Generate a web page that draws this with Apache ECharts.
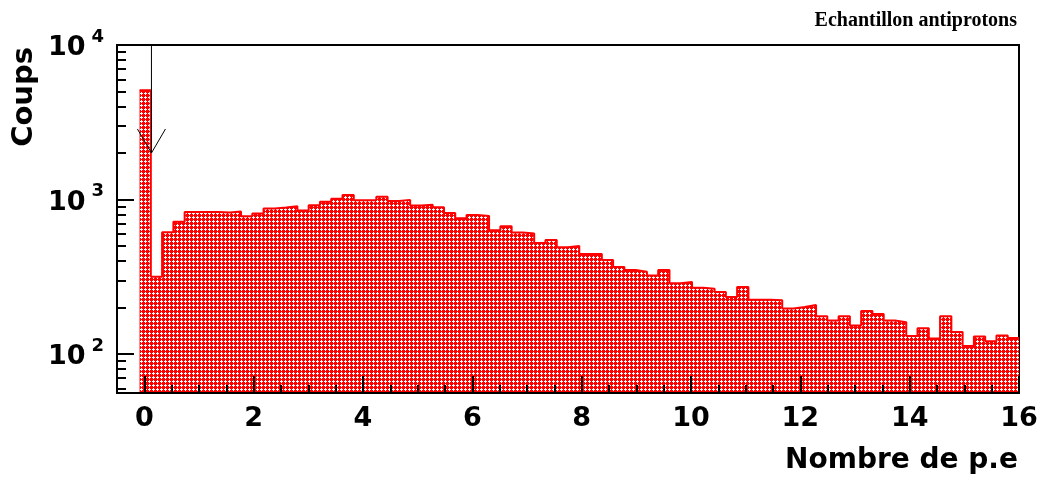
<!DOCTYPE html>
<html>
<head>
<meta charset="utf-8">
<script src="https://cdn.jsdelivr.net/npm/echarts@6/dist/echarts.min.js"></script>
<style>
  html, body { margin: 0; padding: 0; background: #fff; }
  #chart { width: 1039px; height: 479px; }
</style>
</head>
<body>
<div id="chart"></div>
<script>
// Histogram binning: 80 equal bins over [-0.5, 16]
const xLow = -0.5;
const xHigh = 16;
const nBins = 80;
// Bins 0 and 1 are empty; counts start at bin 2
const firstFilledBin = 2;
const counts = [
  5100, 316, 614, 717, 832, 832, 832, 824, 836, 780, 811, 875, 887, 906, 849, 919,
  966, 1010, 1072, 990, 990, 1041, 980, 995, 914, 924, 892, 819, 757, 795, 784, 633, 672, 611, 602, 524, 548,
  491, 501, 444, 444, 406, 366, 350, 341, 322, 350, 287, 293, 269, 265, 252, 234, 272, 225, 225, 223, 197,
  202, 208, 176, 165, 176, 153, 190, 182, 165, 161, 131, 147, 126, 176, 139, 113, 130, 121, 132, 127
];

// Y range (log scale)
const yMin = 56;
const yMax = 10000;

// Tick values
const xMajorTicks = [0, 2, 4, 6, 8, 10, 12, 14, 16];
const xMinorStep = 0.5;
const yMajorTicks = [100, 1000, 10000];
const yMinorMantissas = [2, 3, 4, 5, 6, 7, 8, 9];

// Arrow marker: x position, start (top) and tip counts
const arrow = [[0.13, 10000, 2000]];

// Text
const titleText = 'Echantillon antiprotons';
const xTitle = 'Nombre de p.e';
const yTitle = 'Coups';

// ---- derived helpers ----
const binWidth = (xHigh - xLow) / nBins;
const stepPoints = counts.map((c, i) => [xLow + (firstFilledBin + i) * binWidth, c]);
stepPoints.push([xHigh, counts[counts.length - 1]]);

const xMinorTicks = [];
for (let v = 0; v <= xHigh + 1e-9; v += xMinorStep) xMinorTicks.push(+v.toFixed(3));

const yMinorTicks = [];
[10, 100, 1000].forEach(d => yMinorMantissas.forEach(m => {
  const v = m * d;
  if (v >= yMin && v <= yMax) yMinorTicks.push(v);
}));

// Red crosshatch fill pattern
function makeHatch() {
  const c = document.createElement('canvas');
  c.width = 4; c.height = 4;
  const g = c.getContext('2d');
  g.fillStyle = '#ff0000';
  g.fillRect(0, 0, 4, 4);
  g.fillStyle = '#ffffff';
  [[1, 0], [0, 1], [1, 1], [2, 1], [1, 2]].forEach(p => g.fillRect(p[0], p[1], 1, 1));
  return c;
}

const FONT = 'DejaVu Sans';
const chart = echarts.init(document.getElementById('chart'), null, { renderer: 'canvas' });

chart.setOption({
  animation: false,
  backgroundColor: '#ffffff',
  grid: {
    left: 117, right: 20, top: 45, bottom: 86,
    show: true, borderColor: '#000', borderWidth: 2,
    containLabel: false, outerBoundsMode: 'none'
  },
  xAxis: [
    {
      type: 'value', min: xLow, max: xHigh, position: 'bottom', z: 5,
      axisLine: { show: true, onZero: false, lineStyle: { color: '#000', width: 2 } },
      axisTick: { show: true, inside: true, length: 17, customValues: xMajorTicks,
                  lineStyle: { color: '#000', width: 2 } },
      axisLabel: { customValues: xMajorTicks, color: '#000', fontFamily: FONT, fontWeight: 'bold',
                   fontSize: 27, margin: 12, formatter: v => String(v) },
      splitLine: { show: false }
    },
    {
      type: 'value', min: xLow, max: xHigh, position: 'bottom', z: 5,
      axisLine: { show: false, onZero: false },
      axisTick: { show: true, inside: true, length: 8, customValues: xMinorTicks,
                  lineStyle: { color: '#000', width: 2 } },
      axisLabel: { show: false },
      splitLine: { show: false }
    }
  ],
  yAxis: [
    {
      type: 'log', logBase: 10, min: yMin, max: yMax, position: 'left', z: 5,
      axisLine: { show: true, onZero: false, lineStyle: { color: '#000', width: 2 } },
      axisTick: { show: true, inside: true, length: 17, customValues: yMajorTicks,
                  lineStyle: { color: '#000', width: 2 } },
      axisLabel: {
        customValues: yMajorTicks, margin: 13, padding: [6, 0, 0, 0],
        formatter: v => '{b|10}{s|' + Math.round(Math.log10(v)) + '}',
        rich: {
          b: { fontFamily: FONT, fontWeight: 'bold', fontSize: 27, color: '#000', lineHeight: 40 },
          s: { fontFamily: FONT, fontWeight: 'bold', fontSize: 18, color: '#000', lineHeight: 14,
               verticalAlign: 'top', padding: [0, 0, 0, 6] }
        }
      },
      splitLine: { show: false }
    },
    {
      type: 'log', logBase: 10, min: yMin, max: yMax, position: 'left', z: 5,
      axisLine: { show: false, onZero: false },
      axisTick: { show: true, inside: true, length: 9, customValues: yMinorTicks,
                  lineStyle: { color: '#000', width: 2 } },
      axisLabel: { show: false },
      splitLine: { show: false }
    }
  ],
  series: [
    {
      type: 'line', xAxisIndex: 0, yAxisIndex: 0,
      data: stepPoints, step: 'end', symbol: 'none', clip: true, z: 2,
      lineStyle: { color: '#ff0000', width: 2 },
      areaStyle: { color: { image: makeHatch(), repeat: 'repeat' }, opacity: 1, origin: 'start' }
    },
    {
      type: 'custom', xAxisIndex: 0, yAxisIndex: 0, z: 6,
      data: arrow,
      renderItem: (params, api) => {
        const top = api.coord([api.value(0), api.value(1)]);
        const tip = api.coord([api.value(0), api.value(2)]);
        return {
          type: 'group',
          children: [
            { type: 'line', shape: { x1: top[0], y1: top[1], x2: tip[0], y2: tip[1] },
              style: { stroke: '#000', lineWidth: 1 } },
            { type: 'polyline',
              shape: { points: [[tip[0] - 14, tip[1] - 24], [tip[0], tip[1]], [tip[0] + 14, tip[1] - 24]] },
              style: { stroke: '#000', fill: null, lineWidth: 1 } }
          ]
        };
      }
    }
  ],
  graphic: [
    { type: 'text', x: 1017, y: 21,
      style: { text: titleText, fill: '#000', font: 'bold 20px "Liberation Serif"',
               textAlign: 'right', textVerticalAlign: 'middle' } },
    { type: 'text', x: 1018, y: 461,
      style: { text: xTitle, fill: '#000', font: 'bold 28px "DejaVu Sans"',
               textAlign: 'right', textVerticalAlign: 'middle' } },
    { type: 'text', x: 24, y: 47, rotation: Math.PI / 2,
      style: { text: yTitle, fill: '#000', font: 'bold 29px "DejaVu Sans"',
               textAlign: 'right', textVerticalAlign: 'middle' } }
  ]
});
</script>
</body>
</html>
